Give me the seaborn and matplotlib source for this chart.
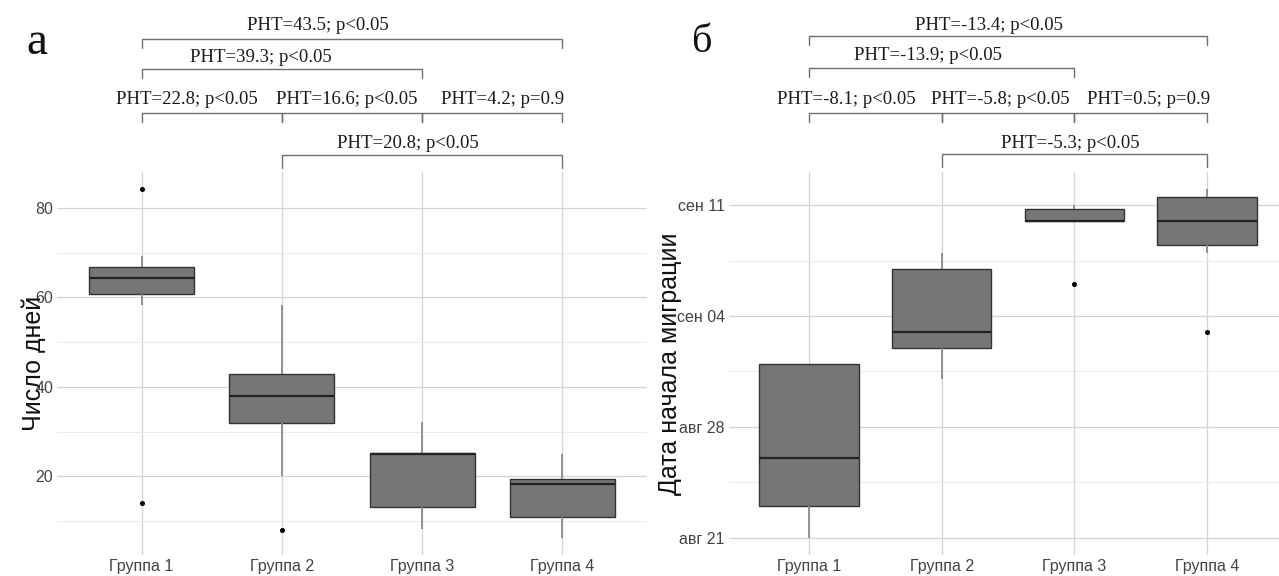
import numpy as np
import pandas as pd
import matplotlib
matplotlib.use("Agg")
import matplotlib.pyplot as plt
import matplotlib.transforms as mtransforms
from matplotlib.ticker import MultipleLocator, FixedLocator
import seaborn as sns

# groups
groups = ["Группа 1", "Группа 2", "Группа 3", "Группа 4"]

days_g1 = [14.0, 58.3, 60.7, 62.5, 64.2, 65.5, 66.7, 69.2, 84.1]
days_g2 = [8.0, 20.0, 32.0, 35.0, 38.0, 40.0, 42.8, 50.0, 58.2]
days_g3 = [8.2, 10.0, 13.1, 20.0, 25.0, 25.0, 25.1, 28.0, 32.1]
days_g4 = [6.3, 8.0, 10.8, 15.0, 18.2, 18.8, 19.3, 22.0, 25.0]

# panel b: migration start dates (month-day)
dates_g1 = ["08-21", "08-22", "08-23", "08-24", "08-26", "08-29", "09-01", "09-01", "09-01"]
dates_g2 = ["08-31", "09-01", "09-02", "09-02", "09-03", "09-05", "09-07", "09-08", "09-08"]
dates_g3 = ["09-06", "09-10", "09-10", "09-10", "09-11", "09-11"]
dates_g4 = ["09-03", "09-08", "09-09", "09-10", "09-11", "09-12", "09-12"]
date_year = "2020"
date_ticks = ["08-21", "08-28", "09-04", "09-11"]
month_names = {8: "авг", 9: "сен"}

# pairwise test labels (same pair order in both panels)
pairs = [(0, 3), (0, 2), (0, 1), (1, 2), (2, 3), (1, 3)]
labels_a = ["PHT=43.5; p<0.05", "PHT=39.3; p<0.05", "PHT=22.8; p<0.05",
            "PHT=16.6; p<0.05", "PHT=4.2; p=0.9", "PHT=20.8; p<0.05"]
labels_b = ["PHT=-13.4; p<0.05", "PHT=-13.9; p<0.05", "PHT=-8.1; p<0.05",
            "PHT=-5.8; p<0.05", "PHT=0.5; p=0.9", "PHT=-5.3; p<0.05"]

W, H = 1279, 576


def long_frame(series):
    rows = []
    for g, vals in zip(groups, series):
        for v in vals:
            rows.append({"group": g, "value": v})
    return pd.DataFrame(rows)


df_a = long_frame([days_g1, days_g2, days_g3, days_g4])

base = pd.Timestamp(f"{date_year}-{date_ticks[0]}")
to_day = lambda s: (pd.Timestamp(f"{date_year}-{s}") - base).days
df_b = long_frame([[to_day(d) for d in grp] for grp in [dates_g1, dates_g2, dates_g3, dates_g4]])

sns.set_style("white")
plt.rcParams["font.family"] = ["Liberation Sans", "DejaVu Sans"]

fig = plt.figure(figsize=(W / 100, H / 100), dpi=100)
ax_a = fig.add_axes([57.4 / W, 21 / H, 589.2 / W, 383 / H])
ax_b = fig.add_axes([729 / W, 21 / H, 558 / W, 383 / H])


def draw_box(ax, df):
    sns.boxplot(data=df, x="group", y="value", order=groups, ax=ax,
                color="#767676", saturation=1, width=0.75,
                linecolor="#333333", linewidth=1.0, fliersize=2.6,
                whiskerprops={"color": "#8a8a8a", "linewidth": 1.3},
                capprops={"visible": False},
                medianprops={"color": "#222222", "linewidth": 1.6},
                flierprops={"marker": "o", "markerfacecolor": "black",
                            "markeredgecolor": "black"})
    ax.set_xlim(-0.6, 3.6)
    lo, hi = df["value"].min(), df["value"].max()
    pad = (hi - lo) * 0.05
    ax.set_ylim(lo - pad, hi + pad)
    ax.set_axisbelow(True)
    ax.grid(True, which="major", color="#d4d4d4", linewidth=0.9)
    ax.grid(True, which="minor", axis="y", color="#ebebeb", linewidth=0.7)
    for s in ax.spines.values():
        s.set_visible(False)
    ax.tick_params(axis="both", which="both", length=0, labelsize=11.5,
                   labelcolor="#444444", pad=3)
    ax.set_xlabel("")


draw_box(ax_a, df_a)
ax_a.yaxis.set_major_locator(MultipleLocator(20))
ax_a.yaxis.set_minor_locator(MultipleLocator(10))
ax_a.set_ylabel("Число дней", fontsize=18, color="#111111")
# label overlaps the tick labels, as in the source figure
ax_a.yaxis.set_label_coords((46 - 57.4) / 589.2, 0.5)

draw_box(ax_b, df_b)
tick_days = [to_day(d) for d in date_ticks]
ax_b.yaxis.set_major_locator(FixedLocator(tick_days))
ax_b.yaxis.set_minor_locator(FixedLocator([(a + b) / 2 for a, b in zip(tick_days[:-1], tick_days[1:])]))
tick_labels = []
for d in date_ticks:
    ts = pd.Timestamp(f"{date_year}-{d}")
    tick_labels.append(f"{month_names[ts.month]} {ts.day:02d}")
ax_b.set_yticklabels(tick_labels)
ax_b.set_ylabel("Дата начала миграции", fontsize=18, color="#111111")
ax_b.yaxis.set_label_coords((682 - 729) / 558, 0.5)

# significance brackets above the panels (y in pixels from top)
bracket_y = {"a": [39, 69, 113, 113, 113, 155], "b": [36, 68, 113, 113, 113, 154]}
tick_len = {"a": [9, 9, 9, 9, 9, 13], "b": [9, 9, 9, 9, 9, 13]}
text_y = {"a": [25, 57, 100, 100, 100, 143], "b": [25, 55, 100, 100, 100, 143]}
text_x = {"a": [1.257, 0.85, 0.32, 1.46, 2.57, 1.90], "b": [1.354, 0.90, 0.286, 1.445, 2.56, 1.97]}


def brackets(ax, key, labels):
    tr = mtransforms.blended_transform_factory(ax.transData, fig.transFigure)
    fy = lambda px: 1 - px / H
    for (i, j), lab, by, tl, ty, tx in zip(pairs, labels, bracket_y[key], tick_len[key],
                                          text_y[key], text_x[key]):
        ax.plot([i, i, j, j], [fy(by + tl), fy(by), fy(by), fy(by + tl)],
                transform=tr, color="#707070", linewidth=1.0, clip_on=False)
        ax.text(tx, fy(ty), lab, transform=tr, ha="center", va="center",
                fontsize=13.5, family=["Liberation Serif", "DejaVu Serif"], color="#1a1a1a")


brackets(ax_a, "a", labels_a)
brackets(ax_b, "b", labels_b)

fig.text(37 / W, 1 - 43 / H, "а", fontsize=34, family=["Liberation Serif", "DejaVu Serif"],
         ha="center", va="center", color="#111111")
fig.text(701 / W, 1 - 43 / H, "б", fontsize=29, family=["Liberation Serif", "DejaVu Serif"],
         ha="center", va="center", color="#111111")

fig.savefig("out.png", dpi=100)
